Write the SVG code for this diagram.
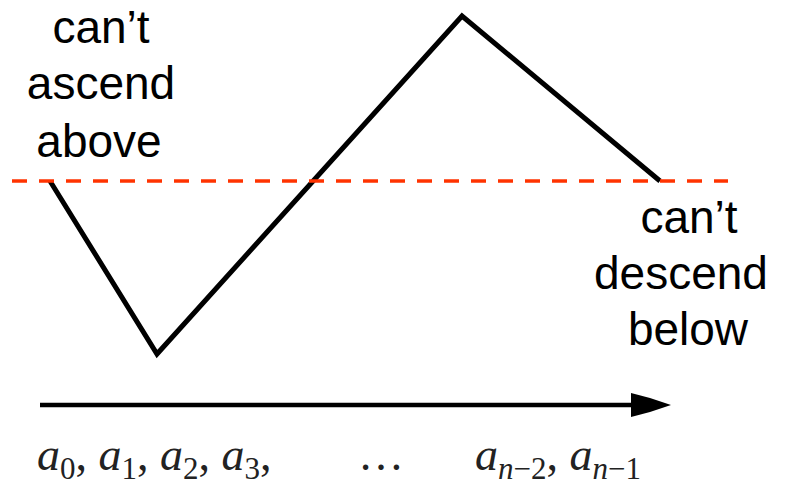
<svg xmlns="http://www.w3.org/2000/svg" width="791" height="494" viewBox="0 0 791 494">
<style>
.lbl{font-family:"Liberation Sans",Arial,sans-serif;font-size:46px;fill:#000;text-anchor:middle}
.math{font-family:"Liberation Serif","Times New Roman",serif;font-size:46px;fill:#222}
.it{font-style:italic}
.sub{font-size:31px}
</style>
<rect width="791" height="494" fill="#fff"/>
<g id="connectors">
<polyline id="path" points="50,181 157,354 462,16 660,181" fill="none" stroke="#000" stroke-width="5" stroke-linejoin="miter"/>
<line id="threshold" x1="12" y1="181" x2="728" y2="181" stroke="#ff3300" stroke-width="3.5" stroke-dasharray="15,12"/>
<g id="axis">
<line x1="40" y1="405" x2="640" y2="405" stroke="#000" stroke-width="4.5"/>
<polygon points="631,393 650,398 671,405 650,412 631,417" fill="#000"/>
</g>
</g>
<g id="label-ascend">
<text class="lbl" x="101" y="43">can’t</text>
<text class="lbl" x="101" y="99">ascend</text>
<text class="lbl" x="99" y="157">above</text>
</g>
<g id="label-descend">
<text class="lbl" x="689" y="233">can’t</text>
<text class="lbl" x="681" y="289">descend</text>
<text class="lbl" x="688" y="345">below</text>
</g>
<g id="sequence">
<text class="math" x="37" y="470"><tspan class="it">a</tspan><tspan class="sub" dy="9">0</tspan><tspan dy="-9">, </tspan><tspan class="it">a</tspan><tspan class="sub" dy="9">1</tspan><tspan dy="-9">, </tspan><tspan class="it">a</tspan><tspan class="sub" dy="9">2</tspan><tspan dy="-9">, </tspan><tspan class="it">a</tspan><tspan class="sub" dy="9">3</tspan><tspan dy="-9">,</tspan></text>
<text class="math" x="358" y="470">…</text>
<text class="math" x="475" y="470"><tspan class="it">a</tspan><tspan class="sub" dy="9"><tspan class="it">n</tspan>−2</tspan><tspan dy="-9">, </tspan><tspan class="it">a</tspan><tspan class="sub" dy="9"><tspan class="it">n</tspan>−1</tspan></text>
</g>
</svg>
